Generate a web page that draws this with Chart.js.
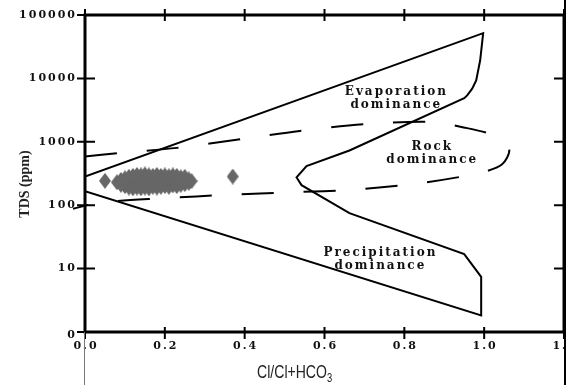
<!DOCTYPE html>
<html>
<head>
<meta charset="utf-8">
<script src="https://cdn.jsdelivr.net/npm/chart.js@4.4.1/dist/chart.umd.min.js"></script>
<style>
  html, body { margin: 0; padding: 0; background: #fff; }
</style>
</head>
<body>
<canvas id="myChart" width="571" height="385"></canvas>
<script>
// axis ticks
var xTicks = [0, 0.2, 0.4, 0.6, 0.8, 1.0, 1.2];
var xTickLabels = ['0.0', '0.2', '0.4', '0.6', '0.8', '1.0', '1.2'];
var yTicks = [1, 10, 100, 1000, 10000, 100000];
var yTickLabels = ['0', '10', '100', '1000', '10000', '100000'];

// Gibbs boundary (solid)
var boundX = [0, 0.9975, 0.99, 0.98, 0.97, 0.9575, 0.95, 0.6625, 0.555, 0.53, 0.5425, 0.6625, 0.95, 0.9925, 0.9925, 0];
var boundY = [283, 51800, 19300, 9300, 6900, 5400, 4880, 729, 413, 274, 207, 75, 16.9, 7.4, 1.83, 166];

// rock dominance envelope (dashed)
var rockX = [0, 0.083, 0.23, 0.395, 0.538, 0.708, 0.868, 0.943, 1.02, 1.0625, 1.045, 0.9875, 0.8325, 0.675, 0.52, 0.3575, 0.2, 0.0375, -0.03];
var rockY = [585, 664, 802, 1114, 1485, 1910, 2053, 1714, 1285, 776, 441, 321, 220, 176, 160, 146, 129, 110, 88];

// samples
var sampleX = [0.05, 0.37,
  0.08,
  0.09, 0.09,
  0.10, 0.10, 0.10,
  0.11, 0.11, 0.11, 0.11,
  0.12, 0.12, 0.12, 0.12, 0.12,
  0.13, 0.13, 0.13, 0.13, 0.13,
  0.14, 0.14, 0.14, 0.14, 0.14,
  0.15, 0.15, 0.15, 0.15, 0.15,
  0.16, 0.16, 0.16, 0.16, 0.16,
  0.17, 0.17, 0.17, 0.17,
  0.18, 0.18, 0.18, 0.18, 0.18,
  0.19, 0.19, 0.19, 0.19,
  0.20, 0.20, 0.20, 0.20,
  0.21, 0.21, 0.21, 0.21,
  0.22, 0.22, 0.22, 0.22,
  0.23, 0.23, 0.23, 0.23,
  0.24, 0.24, 0.24,
  0.25, 0.25, 0.25,
  0.26, 0.26,
  0.267];
var sampleY = [242, 283,
  230,
  210, 250,
  200, 230, 265,
  190, 220, 250, 280,
  185, 205, 235, 265, 290,
  190, 215, 245, 275, 300,
  185, 210, 240, 270, 295,
  190, 220, 250, 280, 305,
  185, 205, 235, 265, 295,
  195, 225, 255, 290,
  190, 215, 245, 280, 300,
  195, 225, 260, 290,
  200, 230, 265, 295,
  195, 220, 250, 285,
  205, 235, 270, 295,
  200, 230, 260, 290,
  210, 240, 275,
  215, 245, 280,
  225, 255,
  240];

// field labels
var zoneText = [['Evaporation', 'dominance'], ['Rock', 'dominance'], ['Precipitation', 'dominance']];
var zoneX = [0.78, 0.87, 0.74];
var zoneY = [4900, 660, 14.4];

function toPoints(xs, ys) {
    return xs.map(function(x, i) { return {x: x, y: ys[i]}; });
}

// diamond marker, a bit taller than wide like the original
var diamond = document.createElement('canvas');
diamond.width = 12;
diamond.height = 16;
var dctx = diamond.getContext('2d');
dctx.fillStyle = '#676767';
dctx.beginPath();
dctx.moveTo(6, 0);
dctx.lineTo(12, 8);
dctx.lineTo(6, 16);
dctx.lineTo(0, 8);
dctx.closePath();
dctx.fill();

var serifBold = "'DejaVu Serif', 'Liberation Serif', serif";

var decor = {
    id: 'decor',
    afterDraw: function(chart) {
        var ctx = chart.ctx;
        var xs = chart.scales.x, ys = chart.scales.y;
        var a = chart.chartArea;
        ctx.save();

        // frame
        ctx.strokeStyle = '#000';
        ctx.lineWidth = 3;
        ctx.strokeRect(a.left, a.top, a.right - a.left, a.bottom - a.top);

        // crossing tick marks
        ctx.lineWidth = 2;
        xTicks.forEach(function(v) {
            var px = xs.getPixelForValue(v);
            ctx.beginPath();
            ctx.moveTo(px, a.bottom - 5); ctx.lineTo(px, a.bottom + 7);
            ctx.moveTo(px, a.top - 6); ctx.lineTo(px, a.top + 6);
            ctx.stroke();
        });
        yTicks.forEach(function(v) {
            var py = ys.getPixelForValue(v);
            ctx.beginPath();
            ctx.moveTo(a.left - 8, py); ctx.lineTo(a.left + 10, py);
            ctx.moveTo(a.right - 10, py); ctx.lineTo(a.right + 6, py);
            ctx.stroke();
        });

        // tick labels
        ctx.fillStyle = '#111';
        ctx.font = 'bold 11px ' + serifBold;
        if ('letterSpacing' in ctx) ctx.letterSpacing = '2px';
        ctx.textBaseline = 'middle';
        ctx.textAlign = 'right';
        yTicks.forEach(function(v, i) {
            var py = ys.getPixelForValue(v);
            ctx.fillText(yTickLabels[i], a.left - 8, i === 0 ? py + 3 : py);
        });
        ctx.textAlign = 'center';
        xTicks.forEach(function(v, i) {
            ctx.fillText(xTickLabels[i], xs.getPixelForValue(v) + 1, a.bottom + 14);
        });

        // zone labels
        ctx.font = 'bold 12px ' + serifBold;
        if ('letterSpacing' in ctx) ctx.letterSpacing = '2px';
        zoneText.forEach(function(lines, i) {
            var px = xs.getPixelForValue(zoneX[i]);
            var py = ys.getPixelForValue(zoneY[i]);
            ctx.fillText(lines[0], px, py - 6);
            ctx.fillText(lines[1], px, py + 7);
        });
        if ('letterSpacing' in ctx) ctx.letterSpacing = '0px';

        // y title
        ctx.save();
        ctx.translate(25, 184);
        ctx.rotate(-Math.PI / 2);
        ctx.textAlign = 'center';
        ctx.font = 'bold 14px "Liberation Serif", serif';
        ctx.fillStyle = '#222';
        ctx.fillText('TDS (ppm)', 0, 0);
        ctx.restore();

        // x title with subscript, squeezed like a narrow sans
        ctx.save();
        ctx.fillStyle = '#222';
        ctx.textAlign = 'left';
        ctx.textBaseline = 'alphabetic';
        ctx.font = '18px "Liberation Sans", sans-serif';
        var t = 'Cl/Cl+HCO';
        var w = ctx.measureText(t).width;
        var sx = 0.78;
        var x0 = 295 - (w * sx + 6) / 2;
        ctx.translate(x0, 378);
        ctx.scale(sx, 1);
        ctx.fillText(t, 0, 0);
        ctx.font = '12px "Liberation Sans", sans-serif';
        ctx.fillText('3', w, 4);
        ctx.restore();

        // page frame lines
        ctx.fillStyle = '#fff';
        ctx.fillRect(a.right + 1, 0, chart.width - a.right, chart.height);
        ctx.strokeStyle = '#000';
        ctx.lineWidth = 2;
        ctx.beginPath();
        ctx.moveTo(a.right + 1, 0); ctx.lineTo(a.right + 1, chart.height);
        ctx.stroke();
        ctx.strokeStyle = '#777';
        ctx.lineWidth = 1;
        ctx.beginPath();
        ctx.moveTo(a.left - 0.5, a.bottom); ctx.lineTo(a.left - 0.5, chart.height);
        ctx.stroke();
        ctx.restore();
    }
};

var ctx = document.getElementById('myChart').getContext('2d');
var chart = new Chart(ctx, {
    type: 'scatter',
    data: {
        datasets: [{
            label: 'boundary',
            data: toPoints(boundX, boundY),
            showLine: true,
            borderColor: '#000',
            borderWidth: 2,
            pointRadius: 0,
            tension: 0,
            order: 2
        }, {
            label: 'rock',
            data: toPoints(rockX, rockY),
            showLine: true,
            borderColor: '#000',
            borderWidth: 2,
            borderDash: [32, 30],
            pointRadius: 0,
            tension: 0.3,
            clip: false,
            order: 3
        }, {
            label: 'samples',
            data: toPoints(sampleX, sampleY),
            pointStyle: diamond,
            pointRadius: 6,
            order: 1
        }]
    },
    options: {
        responsive: false,
        animation: false,
        devicePixelRatio: 1,
        layout: { padding: { left: 77, top: 15, right: 5, bottom: 45 } },
        plugins: { legend: { display: false }, tooltip: { enabled: false } },
        scales: {
            x: {
                type: 'linear', min: 0, max: 1.2,
                ticks: { display: false },
                grid: { display: false },
                border: { display: false }
            },
            y: {
                type: 'logarithmic', min: 1, max: 100000,
                ticks: { display: false },
                grid: { display: false },
                border: { display: false }
            }
        }
    },
    plugins: [decor]
});
</script>
</body>
</html>
